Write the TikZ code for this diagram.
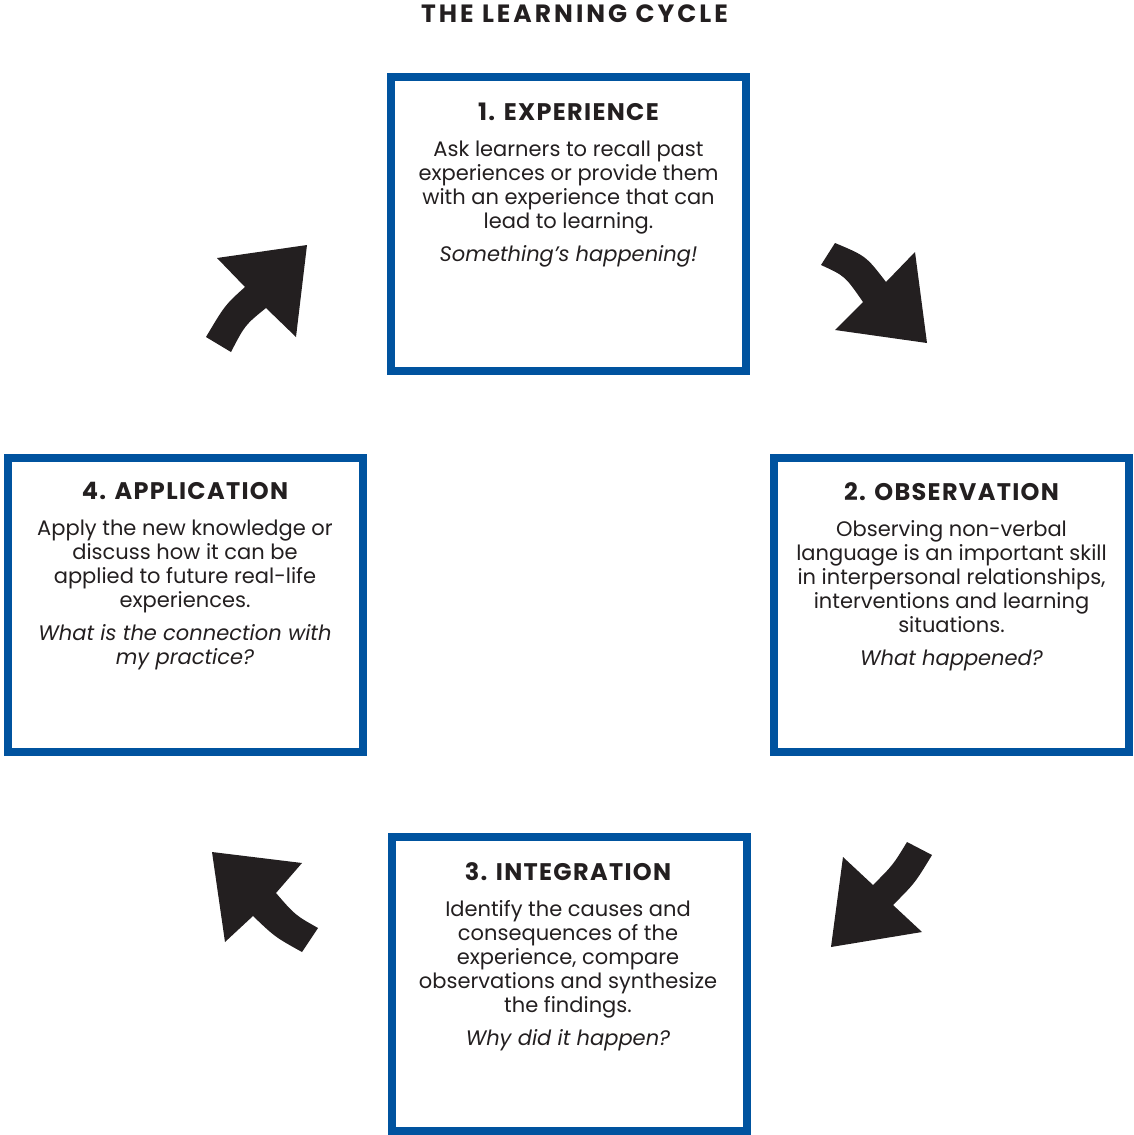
\documentclass[tikz,border=0pt]{standalone}
\usepackage{fontspec}
\setmainfont{Poppins}
\definecolor{cycblue}{RGB}{0,83,159}
\definecolor{ink}{RGB}{35,31,32}
\newcommand\cyctitle[1]{{\fontsize{24}{24}\selectfont\bfseries\addfontfeatures{LetterSpace=5.5}#1}}
\newcommand\maintitle[1]{{\fontsize{25}{25}\selectfont\bfseries\addfontfeatures{LetterSpace=12}#1}}
\begin{document}
\begin{tikzpicture}[x=1pt,y=-1pt,
  cbox/.style={draw=cycblue,line width=8pt,minimum width=355pt,minimum height=294pt,inner sep=0pt,outer sep=0pt,fill=white},
  ctext/.style={anchor=north,align=center,inner sep=0pt,text=ink,font=\fontsize{21}{24}\selectfont},
  arrowshape/.style={fill=ink,draw=none}]
\useasboundingbox (0,0) rectangle (1133,1135);

\node[anchor=north,inner sep=0pt,text=ink] (title) at (574.5,5) {\maintitle{THE LEARNING CYCLE}};

\node[cbox] (b1) at (568.5,224) {};
\node[cbox] (b2) at (951.5,604.5) {};
\node[cbox] (b4) at (185,604.5) {};
\node[cbox] (b3) at (569,984) {};

\node[ctext] (t1) at (568.5,103) {\cyctitle{1. EXPERIENCE}\\[12pt]
Ask learners to recall past\\
experiences or provide them\\
with an experience that can\\
lead to learning.\\[9pt]
\textit{Something’s happening!}};

\node[ctext] (t2) at (951.5,482) {\cyctitle{2. OBSERVATION}\\[12pt]
Observing non-verbal\\
language is an important skill\\
in interpersonal relationships,\\
interventions and learning\\
situations.\\[9pt]
\textit{What happened?}};

\node[ctext] (t4) at (185,482) {\cyctitle{4. APPLICATION}\\[12pt]
Apply the new knowledge or\\
discuss how it can be\\
applied to future real-life\\
experiences.\\[9pt]
\textit{What is the connection with}\\
\textit{my practice?}};

\node[ctext] (t3) at (568,862) {\cyctitle{3. INTEGRATION}\\[12pt]
Identify the causes and\\
consequences of the\\
experience, compare\\
observations and synthesize\\
the findings.\\[9pt]
\textit{Why did it happen?}};

% arrows (clockwise cycle)
\fill[arrowshape] (206,337) .. controls (225,305) .. (245,287) -- (217,258) -- (307,245) -- (296,337) -- (266,308) .. controls (245,325) .. (231,352) -- cycle;
\fill[arrowshape] (821,265) .. controls (845,276) .. (863,302) -- (835,330) -- (927,343) -- (915,252) -- (886,282) .. controls (866,256) .. (835,243) -- cycle;
\fill[arrowshape] (907,842) .. controls (893,865) .. (873,885) -- (843,857) -- (831,947) -- (922,932) -- (893,905) .. controls (915,883) .. (932,855) -- cycle;
\fill[arrowshape] (318,928) .. controls (295,915) .. (276,893) -- (302,863) -- (212,852) -- (225,942) -- (253,916) .. controls (275,937) .. (302,952) -- cycle;
\end{tikzpicture}
\end{document}
